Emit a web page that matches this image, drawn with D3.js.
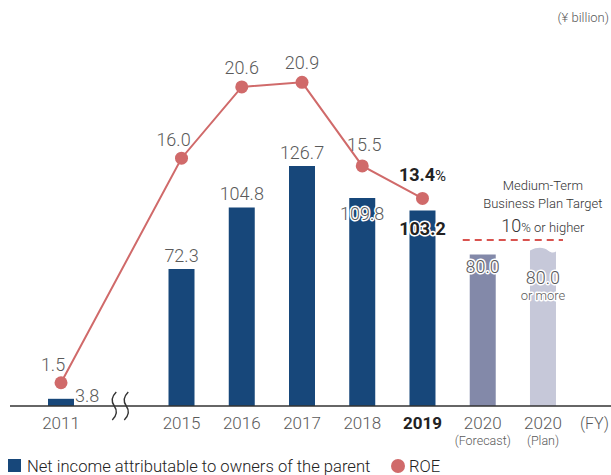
<!DOCTYPE html>
<html>
<head>
<meta charset="utf-8">
<script src="https://cdn.jsdelivr.net/npm/d3@7"></script>
<style>
  html, body { margin: 0; padding: 0; background: #fff; }
  svg { display: block; font-family: Roboto, "Liberation Sans", sans-serif; }
</style>
</head>
<body>
<svg id="chart" width="611" height="475"></svg>
<script>
// ---- data ----
const categories = ["2011", "gap", "2015", "2016", "2017", "2018", "2019", "2020F", "2020P"];
const yearLabels = ["2011", "", "2015", "2016", "2017", "2018", "2019", "2020", "2020"];
const subLabels  = ["", "", "", "", "", "", "", "(Forecast)", "(Plan)"];
const netIncome  = [3.8, null, 72.3, 104.8, 126.7, 109.8, 103.2, 80.0, 80.0];
const netIncomeLabels = ["3.8", "", "72.3", "104.8", "126.7", "109.8", "103.2", "80.0", "80.0"];
const roe        = [1.5, null, 16.0, 20.6, 20.9, 15.5, 13.4, null, null];
const roeLabels  = ["1.5", "", "16.0", "20.6", "20.9", "15.5", "13.4", "", ""];
const targetROE  = 10;
const unitLabel  = "(¥ billion)";
const fyLabel    = "(FY)";
const legendItems = ["Net income attributable to owners of the parent", "ROE"];

// ---- layout ----
const svg = d3.select("#chart");
const baseline = 406;
const barW = 26;
const navy = "#17477a", roeColor = "#d06a6a", fcColor = "#8389a9", planColor = "#c6c8d9";
const grey = "#5a5a5a";

const x = d3.scalePoint().domain(categories).range([30.9, 573.1]).padding(0.5);
const yBar = d3.scaleLinear().domain([0, 126.7]).range([baseline, 166]);
const yRoe = d3.scaleLinear().domain([0, 20.9]).range([baseline, 82.3]);

const barFill = c => c === "2020F" ? fcColor : (c === "2020P" ? planColor : navy);

// bars
const barData = categories.map((c, i) => ({c, i, v: netIncome[i]})).filter(d => d.v != null);
svg.append("g").selectAll("path").data(barData).join("path")
  .attr("fill", d => barFill(d.c))
  .attr("d", d => {
    const x0 = x(d.c) - barW / 2, x1 = x(d.c) + barW / 2, top = yBar(d.v);
    if (d.c === "2020P") {
      const t = top - 5;
      return `M${x0},${baseline} L${x0},${t + 1} C${x0 + 8},${t - 3} ${x0 + 14},${t - 2} ${x0 + 18},${t + 1} S${x1 - 2},${t + 3} ${x1},${t + 2} L${x1},${baseline} Z`;
    }
    return `M${x0},${baseline} L${x0},${top} L${x1},${top} L${x1},${baseline} Z`;
  });

// axis line
svg.append("line").attr("x1", 10).attr("x2", 611).attr("y1", baseline).attr("y2", baseline)
  .attr("stroke", "#333").attr("stroke-width", 1.5);

// axis break squiggles
const gx = x("gap") - 1;
[-6, 6].forEach(off => {
  const cx = gx + off;
  const t = baseline - 14, b = baseline + 14;
  svg.append("path")
    .attr("d", `M${cx + 2},${t} Q${cx - 5},${t + 7} ${cx},${baseline} Q${cx + 5},${b - 7} ${cx - 2},${b}`)
    .attr("fill", "none").attr("stroke", "#333").attr("stroke-width", 1.4);
});

// x tick labels
const ticks = svg.append("g");
categories.forEach((c, i) => {
  if (!yearLabels[i]) return;
  ticks.append("text").attr("x", x(c)).attr("y", baseline + 23).attr("text-anchor", "middle")
    .attr("font-size", 17).attr("font-weight", c === "2019" ? 700 : 300)
    .attr("fill", c === "2019" ? "#222" : grey).text(yearLabels[i]);
  if (subLabels[i]) {
    ticks.append("text").attr("x", x(c)).attr("y", baseline + 39).attr("text-anchor", "middle")
      .attr("font-size", 12.5).attr("font-weight", 300).attr("fill", grey).text(subLabels[i]);
  }
});
ticks.append("text").attr("x", 609).attr("y", baseline + 23).attr("text-anchor", "end")
  .attr("font-size", 16).attr("font-weight", 300).attr("fill", grey).text(fyLabel);

// bar value labels
const lbl = svg.append("g");
function halo(sel) {
  return sel.attr("stroke", "#fff").attr("stroke-width", 3).attr("paint-order", "stroke")
    .attr("stroke-linejoin", "round");
}
categories.forEach((c, i) => {
  const v = netIncome[i];
  if (v == null) return;
  const top = yBar(v), cx = x(c);
  if (c === "2011") {
    lbl.append("text").attr("x", cx + barW / 2 + 1).attr("y", baseline - 4)
      .attr("font-size", 18).attr("font-weight", 300).attr("fill", grey).text(netIncomeLabels[i]);
  } else if (c === "2018") {
    halo(lbl.append("text").attr("x", cx).attr("y", top + 22).attr("text-anchor", "middle")
      .attr("font-size", 18).attr("font-weight", 300).attr("fill", grey).text(netIncomeLabels[i]));
  } else if (c === "2019") {
    halo(lbl.append("text").attr("x", cx).attr("y", top + 24).attr("text-anchor", "middle")
      .attr("font-size", 18).attr("font-weight", 700).attr("fill", "#222").text(netIncomeLabels[i]));
  } else if (c === "2020F") {
    halo(lbl.append("text").attr("x", cx).attr("y", top + 19).attr("text-anchor", "middle")
      .attr("font-size", 18).attr("font-weight", 300).attr("fill", grey).text(netIncomeLabels[i]));
  } else if (c === "2020P") {
    halo(lbl.append("text").attr("x", cx).attr("y", top + 30).attr("text-anchor", "middle")
      .attr("font-size", 18).attr("font-weight", 300).attr("fill", grey).text(netIncomeLabels[i]));
    halo(lbl.append("text").attr("x", cx).attr("y", top + 46).attr("text-anchor", "middle")
      .attr("font-size", 13).attr("font-weight", 300).attr("fill", grey).text("or more"));
  } else {
    lbl.append("text").attr("x", cx).attr("y", top - 7).attr("text-anchor", "middle")
      .attr("font-size", 18).attr("font-weight", 300).attr("fill", grey).text(netIncomeLabels[i]);
  }
});

// ROE line
const roeData = categories.map((c, i) => ({c, i, v: roe[i]})).filter(d => d.v != null);
svg.append("path").datum(roeData)
  .attr("d", d3.line().x(d => x(d.c)).y(d => yRoe(d.v)))
  .attr("fill", "none").attr("stroke", roeColor).attr("stroke-width", 2);
svg.append("g").selectAll("circle").data(roeData).join("circle")
  .attr("cx", d => x(d.c)).attr("cy", d => yRoe(d.v)).attr("r", 6.5).attr("fill", roeColor);

// ROE labels
roeData.forEach(d => {
  const cx = x(d.c), cy = yRoe(d.v);
  if (d.c === "2019") {
    const t = svg.append("text").attr("x", cx).attr("y", cy - 17).attr("text-anchor", "middle")
      .attr("font-weight", 700).attr("fill", "#222");
    t.append("tspan").attr("font-size", 18).text(roeLabels[d.i]);
    t.append("tspan").attr("font-size", 15).attr("font-weight", 400).text("%");
    return;
  }
  let dx = 0, dy = -13;
  if (d.c === "2011") { dx = -8; dy = -12; }
  if (d.c === "2015") { dx = -8; dy = -12; }
  if (d.c === "2018") { dx = 2; dy = -15; }
  svg.append("text").attr("x", cx + dx).attr("y", cy + dy).attr("text-anchor", "middle")
    .attr("font-size", 18).attr("font-weight", 300).attr("fill", grey).text(roeLabels[d.i]);
});

// target annotation
const tgX0 = x("2020F") - 20, tgX1 = x("2020P") + 20;
const tgY = yRoe(targetROE) - 11;
svg.append("line").attr("x1", tgX0).attr("x2", tgX1).attr("y1", tgY).attr("y2", tgY)
  .attr("stroke", "#d9534f").attr("stroke-width", 2).attr("stroke-dasharray", "7,5");
const tgCx = (x("2020F") + x("2020P")) / 2 + 30;
svg.append("text").attr("x", tgCx).attr("y", tgY - 50).attr("text-anchor", "middle")
  .attr("font-size", 13).attr("font-weight", 300).attr("fill", "#333").text("Medium-Term");
svg.append("text").attr("x", tgCx).attr("y", tgY - 32).attr("text-anchor", "middle")
  .attr("font-size", 13).attr("font-weight", 300).attr("fill", "#333").text("Business Plan Target");
const tgt = svg.append("text").attr("x", tgCx).attr("y", tgY - 8).attr("text-anchor", "middle")
  .attr("font-weight", 300).attr("fill", "#333");
tgt.append("tspan").attr("font-size", 18).text(String(targetROE));
tgt.append("tspan").attr("font-size", 13).text("% or higher");

// unit label
svg.append("text").attr("x", 609).attr("y", 22).attr("text-anchor", "end")
  .attr("font-size", 13).attr("font-weight", 300).attr("fill", grey).text(unitLabel);

// legend
const lg = svg.append("g");
lg.append("rect").attr("x", 8).attr("y", 459).attr("width", 13).attr("height", 13).attr("fill", navy);
lg.append("text").attr("x", 27).attr("y", 472).attr("font-size", 16.6).attr("font-weight", 300)
  .attr("fill", "#222").text(legendItems[0]);
lg.append("circle").attr("cx", 398).attr("cy", 466).attr("r", 7).attr("fill", roeColor);
lg.append("text").attr("x", 409).attr("y", 472).attr("font-size", 16.6).attr("font-weight", 300)
  .attr("fill", "#222").text(legendItems[1]);
</script>
</body>
</html>
